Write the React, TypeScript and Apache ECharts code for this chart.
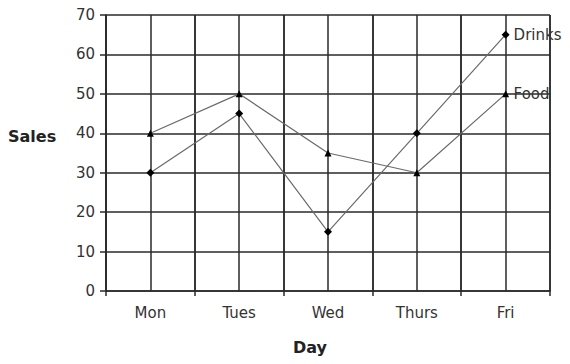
import React, { useEffect, useRef } from "react";
import * as echarts from "echarts";

const days = ["Mon", "Tues", "Wed", "Thurs", "Fri"];
const drinks = [30, 45, 15, 40, 65];
const food = [40, 50, 35, 30, 50];
const halfSlots = days.flatMap((d) => [d + "a", d + "b"]);

export default function App() {
  const ref = useRef<HTMLDivElement>(null);
  useEffect(() => {
    const chart = echarts.init(ref.current!, null, { renderer: "svg" });
    const font = "DejaVu Sans";
    const lineStyle = { color: "#2a2a2a", width: 1.5 };
    chart.setOption({
      animation: false,
      backgroundColor: "#ffffff",
      textStyle: { fontFamily: font },
      grid: { left: 106, right: 20, top: 15, bottom: 73 },
      xAxis: [
        {
          type: "category",
          data: days,
          boundaryGap: true,
          axisLine: { show: true, lineStyle },
          axisTick: { show: true, length: 5, interval: 0, lineStyle },
          axisLabel: { color: "#333", fontSize: 15, fontFamily: font, margin: 14, interval: 0 },
          splitLine: { show: true, interval: 0, lineStyle },
        },
        {
          type: "category",
          data: halfSlots,
          position: "bottom",
          boundaryGap: true,
          axisLine: { show: false },
          axisTick: { show: false },
          axisLabel: { show: false, interval: 0 },
          splitLine: { show: true, interval: 0, lineStyle },
        },
      ],
      yAxis: {
        type: "value",
        min: 0,
        max: 70,
        interval: 10,
        axisLine: { show: true, lineStyle },
        axisTick: { show: true, length: 6, lineStyle },
        axisLabel: { color: "#333", fontSize: 15, fontFamily: font, margin: 11 },
        splitLine: { show: true, lineStyle },
      },
      graphic: [
        {
          type: "text",
          left: 8,
          top: 128,
          style: { text: "Sales", fontSize: 16, fontWeight: "bold", fontFamily: font, fill: "#222" },
        },
        {
          type: "text",
          left: 293,
          top: 339,
          style: { text: "Day", fontSize: 16, fontWeight: "bold", fontFamily: font, fill: "#222" },
        },
      ],
      series: [
        {
          name: "Drinks",
          type: "line",
          data: drinks,
          symbol: "diamond",
          symbolSize: 8,
          itemStyle: { color: "#000" },
          lineStyle: { color: "#6a6a6a", width: 1.2 },
          endLabel: {
            show: true,
            formatter: "{a}",
            color: "#333",
            fontSize: 15,
            fontFamily: font,
            distance: 8,
          },
          z: 5,
        },
        {
          name: "Food",
          type: "line",
          data: food,
          symbol: "triangle",
          symbolSize: 7,
          itemStyle: { color: "#000" },
          lineStyle: { color: "#6a6a6a", width: 1.2 },
          endLabel: {
            show: true,
            formatter: "{a}",
            color: "#333",
            fontSize: 15,
            fontFamily: font,
            distance: 8,
          },
          z: 5,
        },
      ],
    });
    return () => chart.dispose();
  }, []);
  return (
    <div
      ref={ref}
      style={{ position: "fixed", left: 0, top: 0, width: 570, height: 364, background: "#fff" }}
    />
  );
}
